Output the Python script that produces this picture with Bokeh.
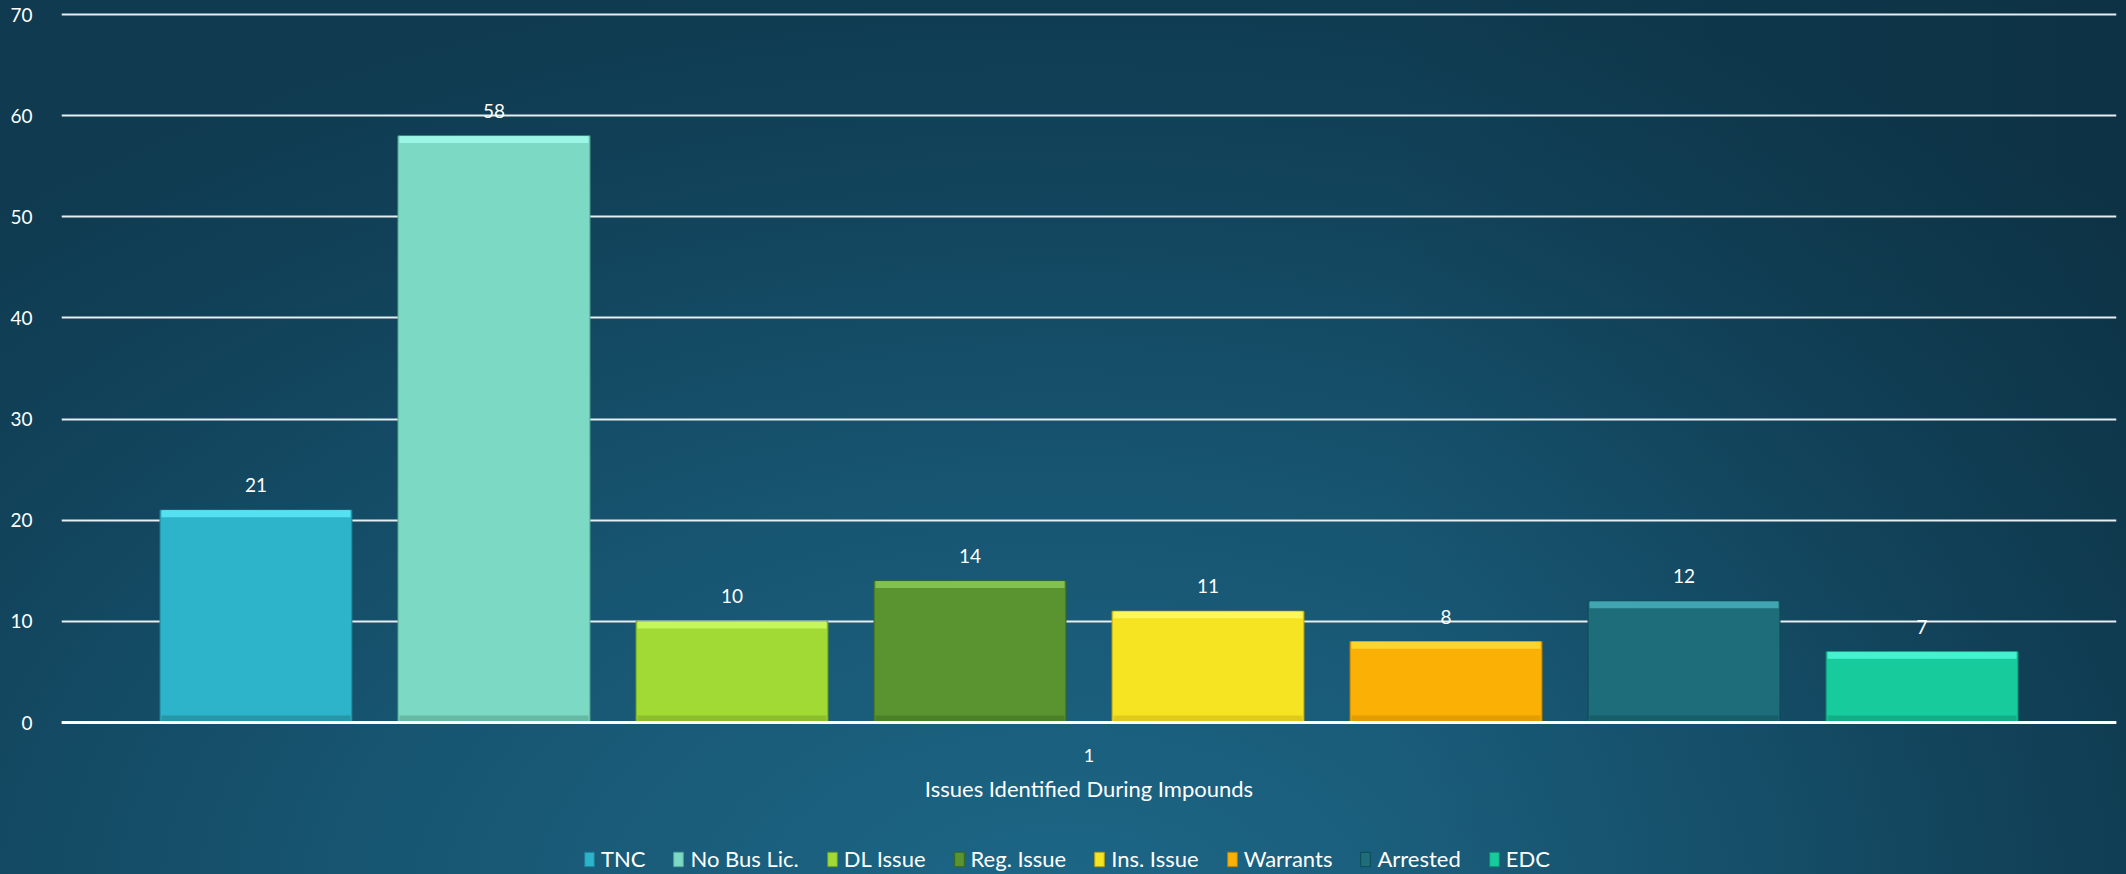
from bokeh.plotting import figure
from bokeh.models import FactorRange, Range1d, Legend, LegendItem, FixedTicker, ColumnDataSource, Span
from bokeh.transform import dodge
from bokeh.core.properties import value
from bokeh.embed import file_html
from bokeh.resources import INLINE

# ---- data ----
category = ["1"]
series = ["TNC", "No Bus Lic.", "DL Issue", "Reg. Issue", "Ins. Issue", "Warrants", "Arrested", "EDC"]
counts = [21, 58, 10, 14, 11, 8, 12, 7]
y_ticks = [0, 10, 20, 30, 40, 50, 60, 70]
axis_title = "Issues Identified During Impounds"

# ---- styles ----
fill_colors = ["#2eb4ca", "#7cd9c3", "#a1da34", "#5a9430", "#f6e322", "#fab005", "#1d6d7a", "#17cb9d"]
top_colors = ["#63f0ff", "#a6fff0", "#d2ff6a", "#8fcf5c", "#ffff6e", "#ffe23c", "#4eb8c4", "#55ffe0"]
low_colors = ["#23909f", "#62b09c", "#86b52a", "#497a26", "#d8c41c", "#dd9a04", "#175a64", "#12a882"]
edge_colors = ["#1e8193", "#56a894", "#6e9a1e", "#3a681c", "#b5a010", "#bf7f00", "#0e4a54", "#0c8e6e"]

FONT = value("Lato")
W, H = 2126, 874
PX_PER_UNIT = 10.114          # vertical scale (screen px per value unit)
ZERO_Y = 722                  # screen row of the value 0
pitch = 0.11582
bar_w = 0.0934

y_lo = -(H - ZERO_Y) / PX_PER_UNIT
y_hi = ZERO_Y / PX_PER_UNIT

p = figure(width=W, height=H,
           x_range=FactorRange(factors=category, range_padding=0),
           y_range=Range1d(y_lo, y_hi),
           output_backend="svg", toolbar_location=None,
           min_border_left=61, min_border_right=10, min_border_top=0, min_border_bottom=0)

p.border_fill_color = None
p.background_fill_color = None
p.outline_line_color = None
p.styles = {
    "background": "linear-gradient(to right, rgba(0,0,0,0) 65%, rgba(5,20,30,0.22) 100%), "
                  "radial-gradient(ellipse 75% 110% at 50% 105%, #1d6787 0%, #175571 45%, #114259 80%, #0f3a4f 100%)"
}

items = []
for i, (name, v) in enumerate(zip(series, counts)):
    off = (i - 3.5) * pitch
    xs = dodge("cat", off, range=p.x_range)
    src = ColumnDataSource(dict(cat=category, val=[v], hl=[v - 0.7], lo=[0.7], label=[str(v)]))
    r = p.vbar(x=xs, top="val", bottom=0, width=bar_w, source=src,
               fill_color=fill_colors[i], line_color=edge_colors[i], line_width=1)
    p.vbar(x=xs, top="lo", bottom=0, width=bar_w * 0.985, source=src,
           fill_color=low_colors[i], fill_alpha=0.8, line_color=None)
    p.vbar(x=xs, top="val", bottom="hl", width=bar_w * 0.985, source=src,
           fill_color=top_colors[i], fill_alpha=0.75, line_color=None)
    p.text(x=xs, y="val", text="label", source=src,
           text_align="center", text_baseline="middle", y_offset=-25,
           text_font=FONT, text_font_size="19px", text_color="white")
    items.append(LegendItem(label=name, renderers=[r]))

# category label and axis title beneath the baseline
cat_src = ColumnDataSource(dict(cat=category, lbl=category))
p.text(x="cat", y=0, text="lbl", source=cat_src, y_offset=33,
       text_align="center", text_baseline="middle",
       text_font=FONT, text_font_size="18px", text_color="white")
title_src = ColumnDataSource(dict(cat=category, lbl=[axis_title]))
p.text(x="cat", y=0, text="lbl", source=title_src, y_offset=66,
       text_align="center", text_baseline="middle",
       text_font=FONT, text_font_size="22px", text_color="white")

# axes / grid
p.xaxis.visible = False
p.yaxis.ticker = FixedTicker(ticks=y_ticks)
p.ygrid.ticker = FixedTicker(ticks=y_ticks)
p.ygrid.grid_line_color = "#e6eef1"
p.ygrid.grid_line_width = 2
p.xgrid.grid_line_color = None
p.grid.level = "underlay"
p.add_layout(Span(location=y_ticks[0], dimension="width", line_color="white", line_width=3))

p.yaxis.axis_line_color = None
p.yaxis.major_tick_line_color = None
p.yaxis.minor_tick_line_color = None
p.yaxis.major_label_standoff = 23
p.yaxis.major_label_text_font = "Lato"
p.yaxis.major_label_text_font_size = "19px"
p.yaxis.major_label_text_color = "white"

legend = Legend(items=items, orientation="horizontal", location=(522, 2),
                padding=0, margin=0, spacing=27, label_standoff=6,
                glyph_width=12, glyph_height=18, label_height=20,
                label_text_font="Lato", label_text_font_size="22px", label_text_color="white",
                background_fill_alpha=0, border_line_color=None)
p.add_layout(legend)

open("out.html", "w").write(file_html(p, INLINE))
